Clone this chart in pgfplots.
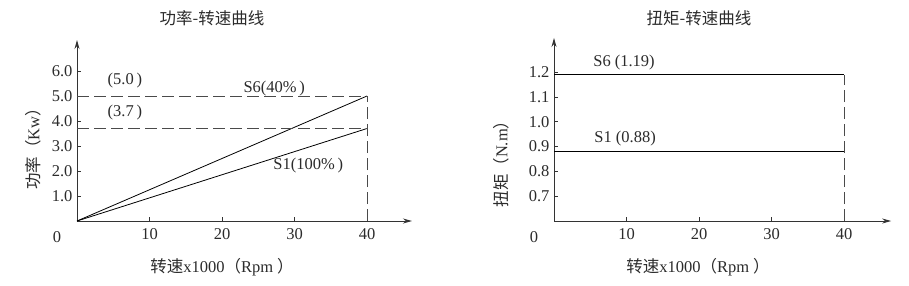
\documentclass[border=0pt]{standalone}
\usepackage{fontspec}
\setmainfont{Liberation Serif}
\newfontfamily\cjk{Noto Sans CJK SC}
\usepackage{pgfplots}
\pgfplotsset{compat=1.18}
\usetikzlibrary{arrows.meta}
\definecolor{txt}{HTML}{2B2B2B}
\definecolor{axc}{HTML}{333333}
\definecolor{dshc}{HTML}{4A4A4A}
\begin{document}
\begin{tikzpicture}[x=1pt,y=1pt,font=\fontsize{16.5pt}{19pt}\selectfont,text=txt]
\useasboundingbox (0,0) rectangle (909,285);
\pgfplotsset{
  myax/.style={
    axis lines=left,
    axis line style={color=axc, line width=0.9pt, -{Stealth[length=9pt,width=5pt]}},
    scale only axis,
    anchor=south west,
    x=7.25pt, xmin=0,
    xtick={10,20,30,40},
    tick style={axc, line width=0.8pt},
    tick align=inside,
    major tick length=4pt,
    ticklabel style={font=\fontsize{16.5pt}{19pt}\selectfont, text=txt},
    xticklabel style={yshift=-4pt},
    yticklabel style={xshift=-1pt, /pgf/number format/.cd, fixed, fixed zerofill, precision=1},
    /pgf/number format/assume math mode=true,
    clip=false,
  },
  sol/.style={black, line width=0.8pt},
  dashln/.style={dshc, line width=0.9pt, dash pattern=on 12pt off 5pt},
}
% ---------- left chart ----------
\begin{axis}[myax, at={(77pt,64pt)}, xmax=46.2, ymin=0, ymax=7.24, y=25pt,
  ytick={1,2,3,4,5,6}]
\addplot[sol] coordinates {(0,0) (40,5.0)};
\addplot[sol] coordinates {(0,0) (40,3.7)};
\addplot[dashln] coordinates {(0,5.0) (40,5.0)};
\addplot[dashln] coordinates {(0,3.7) (40,3.7)};
\addplot[dashln] coordinates {(40,0) (40,5.0)};
\node at (axis cs:6.6,5.6) {(5.0\,)};
\node at (axis cs:6.6,4.32) {(3.7\,)};
\node at (axis cs:27.2,5.28) {S6(40\%\,)};
\node at (axis cs:31.9,2.2) {S1(100\%\,)};
\end{axis}
% ---------- right chart ----------
\begin{axis}[myax, at={(554pt,64pt)}, xmax=46.5, ymin=0.6, ymax=1.338, y=248pt,
  ytick={0.7,0.8,0.9,1.0,1.1,1.2}]
\addplot[sol] coordinates {(0,1.19) (40,1.19)};
\addplot[sol] coordinates {(0,0.88) (40,0.88)};
\addplot[dashln] coordinates {(40,0.6) (40,1.19)};
\node at (axis cs:9.66,1.241) {S6 (1.19)};
\node at (axis cs:9.8,0.931) {S1 (0.88)};
\end{axis}
% ---------- texts ----------
\node at (57,48) {0};
\node at (534,48) {0};
\node at (212,267) {\cjk 功率-转速曲线};
\node at (699,267) {\cjk 扭矩-转速曲线};
\node at (222,18) {{\cjk 转速}x1000{\cjk （}Rpm {\cjk ）}};
\node at (698,18) {{\cjk 转速}x1000{\cjk （}Rpm {\cjk ）}};
\node[rotate=90] at (33,140) {{\cjk 功率（}Kw{\cjk ）}};
\node[rotate=90] at (501,125) {{\cjk 扭矩（}N.m{\cjk ）}};
\end{tikzpicture}
\end{document}
